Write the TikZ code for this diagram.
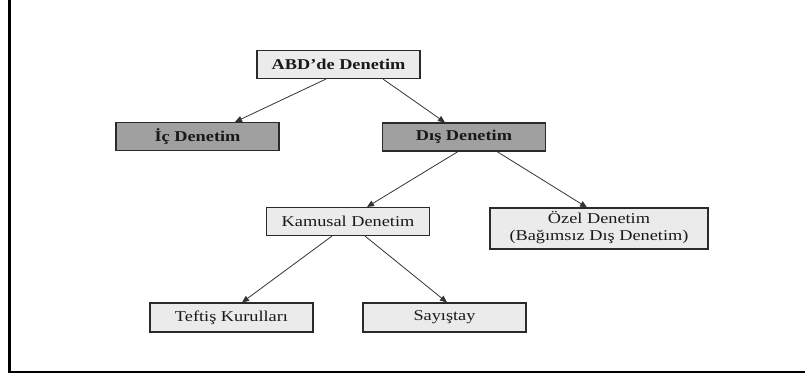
\documentclass[tikz,border=0pt]{standalone}
\usepackage{fontspec}
\setmainfont{Liberation Serif}
\usetikzlibrary{arrows.meta}
\definecolor{lightfill}{HTML}{EBEBEB}
\definecolor{darkfill}{HTML}{A0A0A0}
\definecolor{boxline}{HTML}{2A2A2A}
\definecolor{arrowline}{HTML}{333333}
\newcommand\hstretch[1]{\scalebox{1.22}[1]{#1}}
\tikzset{
  box/.style={draw=boxline, line width=1.1pt, minimum height=28pt, minimum width=163pt,
    inner sep=0pt, text=black!90, font=\rmfamily\fontsize{15}{16.5}\selectfont},
  lightbox/.style={box, fill=lightfill},
  darkbox/.style={box, fill=darkfill, font=\rmfamily\fontsize{15}{16.5}\selectfont\bfseries},
  conn/.style={draw=arrowline, line width=0.8pt, -{Triangle[length=7pt,width=6pt]}},
  frameline/.style={line width=2.5pt, draw=black}
}
\begin{document}
\begin{tikzpicture}[x=1pt,y=-1pt]
\useasboundingbox (0,0) rectangle (805,376);
\draw[frameline] (9.5,-2) -- (9.5,372) -- (807,372);

\node[lightbox, font=\rmfamily\fontsize{15}{16.5}\selectfont\bfseries] (abd) at (338.5,64.5) {\hstretch{ABD’de Denetim}};
\node[darkbox] (ic) at (197.5,136.5) {\hstretch{İç Denetim}};
\node[darkbox] (dis) at (464,137) {\hstretch{Dış Denetim}};
\node[lightbox] (kam) at (348,221.5) {\hstretch{Kamusal Denetim}};
\node[lightbox, minimum width=218pt, minimum height=41pt] (oz) at (599,228.5)
  {\hstretch{\begin{tabular}{@{}c@{}}Özel Denetim\\(Bağımsız Dış Denetim)\end{tabular}}};
\node[lightbox, minimum height=29pt] (tef) at (231.5,317.5) {\hstretch{Teftiş Kurulları}};
\node[lightbox, minimum height=29pt] (say) at (444.5,317.5) {\hstretch{Sayıştay}};

\draw[conn] ([xshift=-12.5pt]abd.south) -- ([xshift=37.5pt]ic.north);
\draw[conn] ([xshift=44.5pt]abd.south) -- ([xshift=-19pt]dis.north);
\draw[conn] ([xshift=-6pt]dis.south) -- ([xshift=19pt]kam.north);
\draw[conn] ([xshift=33pt]dis.south) -- ([xshift=-12pt]oz.north);
\draw[conn] ([xshift=-16pt]kam.south) -- ([xshift=10.5pt]tef.north);
\draw[conn] ([xshift=17pt]kam.south) -- ([xshift=2.5pt]say.north);
\end{tikzpicture}
\end{document}
